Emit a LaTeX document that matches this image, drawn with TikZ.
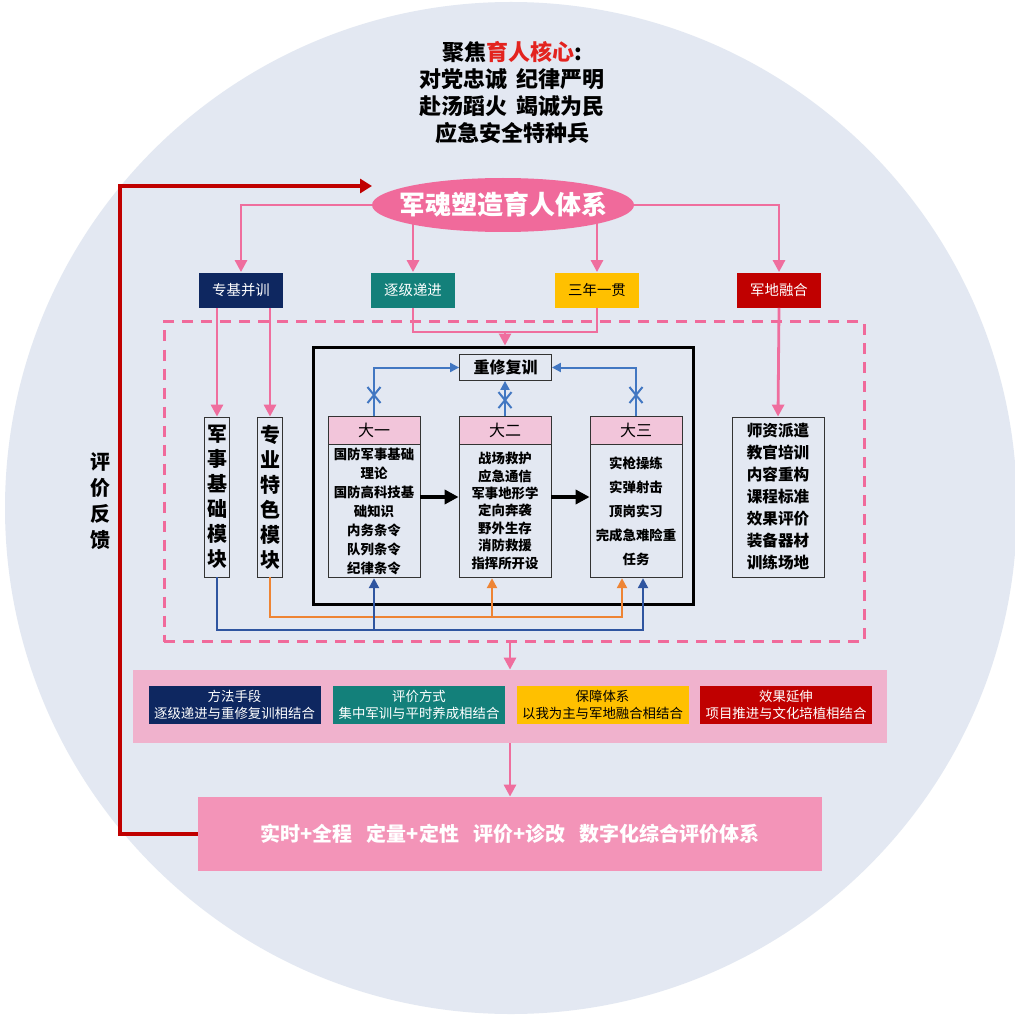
\documentclass[tikz,border=0pt]{standalone}
\usepackage{fontspec}
\setmainfont{Noto Sans CJK SC}
\usetikzlibrary{shapes,arrows.meta}
\pgfdeclarelayer{back}
\pgfsetlayers{back,main}
\definecolor{discblue}{HTML}{E3E8F2}
\definecolor{hotpink}{HTML}{F06A9B}
\definecolor{linkpink}{HTML}{EF6E9E}
\definecolor{navyfill}{HTML}{0E2760}
\definecolor{tealfill}{HTML}{13807A}
\definecolor{goldfill}{HTML}{FFC000}
\definecolor{redfill}{HTML}{C00000}
\definecolor{bandpink}{HTML}{F0B2CD}
\definecolor{evalpink}{HTML}{F394B8}
\definecolor{headpink}{HTML}{F2C5DA}
\definecolor{topblue}{HTML}{4277C2}
\definecolor{busblue}{HTML}{2F55A0}
\definecolor{busorange}{HTML}{EE8434}
\definecolor{coretext}{HTML}{E3231F}
\definecolor{edgegrey}{HTML}{333333}

\begin{document}
\begin{tikzpicture}[x=0.5pt,y=-0.5pt,
pinkarr/.style={draw=linkpink, line width=1.4pt, -{Triangle[length=6pt,width=6pt]}},
pinkline/.style={draw=linkpink, line width=1.4pt},
bluearr/.style={draw=topblue, line width=1pt, -{Triangle[length=4.5pt,width=4.5pt]}},
busblueline/.style={draw=busblue, line width=1.2pt, -{Triangle[length=5pt,width=5pt]}},
busorangeline/.style={draw=busorange, line width=1.2pt, -{Triangle[length=5pt,width=5pt]}},
blackarr/.style={line width=2pt, -{Triangle[length=7pt,width=7pt]}},
tag/.style={minimum width=42pt, minimum height=17.5pt, inner sep=0pt, text=white, font=\fontsize{7.2}{8}\selectfont},
module/.style={draw=edgegrey, minimum width=12.5pt, minimum height=80pt, inner sep=0pt, align=center, font=\bfseries\fontsize{10}{12.5}\selectfont},
yearbox/.style={draw=edgegrey, rectangle split, rectangle split parts=2, rectangle split part fill={headpink,discblue}, inner sep=0pt},
xmk/.style={cross out, draw=topblue, line width=1pt, minimum width=5.5pt, minimum height=7pt, inner sep=0pt},
way/.style={minimum width=86pt, minimum height=19pt, inner sep=0pt, align=center, text=white, font=\fontsize{6.7}{8.5}\selectfont}]
\useasboundingbox (0,0) rectangle (1014,1016);
\begin{pgfonlayer}{back}
\fill[white] (0,0) rectangle (1014,1016);
\fill[discblue] (511,508) circle[radius=253pt];
\end{pgfonlayer}

\node[align=center, font=\bfseries\fontsize{11}{13.5}\selectfont] (focus) at (512,93) {聚焦\textcolor{coretext}{育人核心}:\\对党忠诚\hspace{0.4em}纪律严明\\赴汤蹈火\hspace{0.4em}竭诚为民\\应急安全特种兵};
\node[ellipse, fill=hotpink, minimum width=131pt, minimum height=27pt, inner xsep=-6pt, inner ysep=-2pt, text=white, font=\bfseries\fontsize{13}{15}\selectfont] (core) at (503,205) {军魂塑造育人体系};

\node[tag, fill=navyfill] (zjbx) at (241,290) {专基并训};
\node[tag, fill=tealfill] (zjdj) at (413,290) {逐级递进};
\node[tag, fill=goldfill, text=black] (snyg) at (597,290) {三年一贯};
\node[tag, fill=redfill] (jdrh) at (779,290) {军地融合};

\node[draw=hotpink, dash pattern=on 5.5pt off 4pt, line width=1.5pt, minimum width=350pt, minimum height=160pt] (zone) at (514,481.5) {};
\node[draw, line width=1.5pt, minimum width=190pt, minimum height=128.5pt] (frame) at (503,475.5) {};

\node[module] (mod1) at (217,497) {军\\事\\基\\础\\模\\块};
\node[module] (mod2) at (270,497) {专\\业\\特\\色\\模\\块};
\node[draw=edgegrey, minimum width=46pt, minimum height=13pt, inner sep=0pt, font=\bfseries\fontsize{8}{9}\selectfont] (retrain) at (505.5,367.5) {重修复训};

\node[yearbox] (year1) at (374,497) {\parbox[c][13.5pt][c]{46pt}{\centering\fontsize{8}{9}\selectfont 大一}\nodepart{second}\parbox[c][66.5pt][c]{46pt}{\centering\bfseries\fontsize{6.7}{9.5}\selectfont 国防军事基础\\理论\\国防高科技基\\础知识\\内务条令\\队列条令\\纪律条令}};
\node[yearbox] (year2) at (505,497) {\parbox[c][13.5pt][c]{46pt}{\centering\fontsize{8}{9}\selectfont 大二}\nodepart{second}\parbox[c][66.5pt][c]{46pt}{\centering\bfseries\fontsize{6.7}{8.7}\selectfont 战场救护\\应急通信\\军事地形学\\定向奔袭\\野外生存\\消防救援\\指挥所开设}};
\node[yearbox] (year3) at (636,497) {\parbox[c][13.5pt][c]{46pt}{\centering\fontsize{8}{9}\selectfont 大三}\nodepart{second}\parbox[c][66.5pt][c]{46pt}{\centering\bfseries\fontsize{6.7}{12}\selectfont 实枪操练\\实弹射击\\顶岗实习\\完成急难险重\\任务}};

\node[draw=edgegrey, minimum width=46pt, minimum height=80pt, inner sep=0pt, align=center, font=\bfseries\fontsize{7.8}{11}\selectfont] (support) at (778,497) {师资派遣\\教官培训\\内容重构\\课程标准\\效果评价\\装备器材\\训练场地};

\node[fill=bandpink, minimum width=377pt, minimum height=36.5pt] (band) at (510,706.5) {};
\node[way, fill=navyfill] (way1) at (234.5,705) {方法手段\\逐级递进与重修复训相结合};
\node[way, fill=tealfill] (way2) at (419,705) {评价方式\\集中军训与平时养成相结合};
\node[way, fill=goldfill, text=black] (way3) at (602.5,705) {保障体系\\以我为主与军地融合相结合};
\node[way, fill=redfill] (way4) at (786,705) {效果延伸\\项目推进与文化培植相结合};

\node[fill=evalpink, minimum width=312pt, minimum height=37pt, text=white, font=\bfseries\fontsize{10}{12}\selectfont] (evalbox) at (510,834) {实时+全程\hspace{0.7em}定量+定性\hspace{0.7em}评价+诊改\hspace{0.7em}数字化综合评价体系};
\node[align=center, font=\bfseries\fontsize{10}{13}\selectfont] (fblabel) at (100,501) {评\\价\\反\\馈};

\begin{pgfonlayer}{back}
\draw[pinkarr] (core.center -| zjdj.north) -- (zjdj.north);
\draw[pinkarr] (core.center -| snyg.north) -- (snyg.north);
\end{pgfonlayer}
\draw[pinkarr] (core.west) -| (zjbx.north);
\draw[pinkarr] (core.east) -| (jdrh.north);

\coordinate (fbturn) at (120,834);
\coordinate (fbin) at (372,186);
\draw[draw=redfill, line width=2pt, -{Triangle[length=6pt,width=7pt]}] (evalbox.west) -- (fbturn) |- (fbin);

\draw[pinkarr] (mod1.north |- zjbx.south) -- (mod1.north);
\draw[pinkarr] (mod2.north |- zjbx.south) -- (mod2.north);
\draw[pinkarr] (jdrh.south) -- (support.north);
\coordinate (join) at (505,332);
\draw[pinkline] (zjdj.south) |- (join) -| (snyg.south);
\draw[pinkarr] (join) -- (join |- frame.north);

\draw[bluearr] (year1.north) -- node[xmk, pos=0.43]{} (year1.north |- retrain.west) -- (retrain.west);
\draw[bluearr] (year2.north) -- node[xmk, pos=0.45]{} (year2.north |- retrain.south);
\draw[bluearr] (year3.north) -- node[xmk, pos=0.43]{} (year3.north |- retrain.east) -- (retrain.east);

\draw[blackarr] (year1.east) -- (year2.west);
\draw[blackarr] (year2.east) -- (year3.west);

\coordinate (blueRail) at (0,630);
\coordinate (orangeRail) at (0,617);
\coordinate (year2o) at ([xshift=-6.5pt]year2.south);
\coordinate (year3o) at ([xshift=-7pt]year3.south);
\coordinate (year3b) at ([xshift=3.5pt]year3.south);
\draw[busorangeline] (mod2.south) |- (year3o |- orangeRail) -- (year3o);
\draw[busorangeline] (year2o |- orangeRail) -- (year2o);
\draw[busblueline] (mod1.south) |- (year3b |- blueRail) -- (year3b);
\draw[busblueline] (year1.south |- blueRail) -- (year1.south);

\draw[pinkarr] (band.north |- zone.south) -- (band.north);
\draw[pinkarr] (band.south) -- (evalbox.north);
\end{tikzpicture}
\end{document}
